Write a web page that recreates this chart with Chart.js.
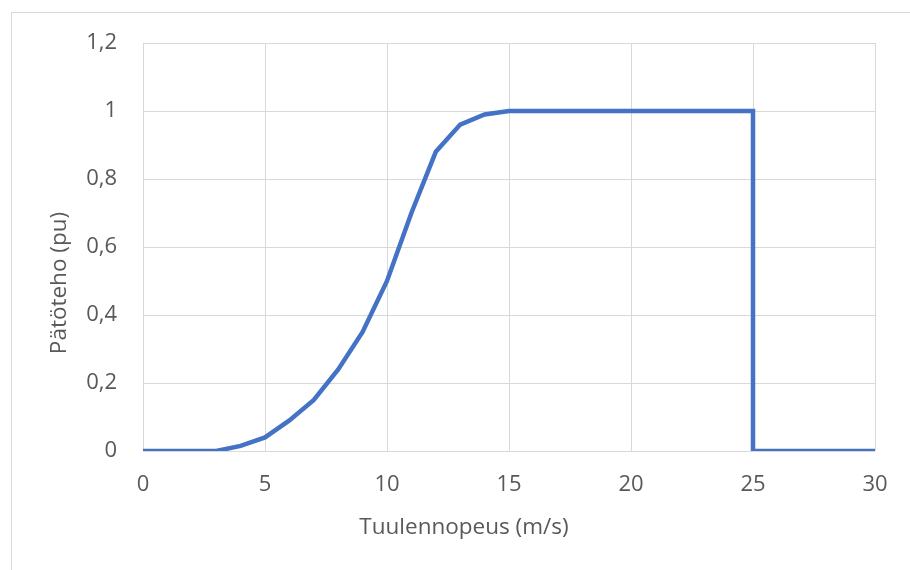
<!DOCTYPE html>
<html>
<head>
<meta charset="utf-8">
<script src="https://cdn.jsdelivr.net/npm/chart.js@4"></script>
<style>
  html, body { margin: 0; padding: 0; background: #fff; }
  #wrap { width: 910px; height: 570px; }
</style>
</head>
<body>
<div id="wrap"><canvas id="powerCurve" width="910" height="570"></canvas></div>
<script>
/* -------------------------------------------------------
   Data: wind turbine power curve
------------------------------------------------------- */
const windSpeed = [0, 3, 4, 5, 6, 7, 8, 9, 10, 11, 12, 13, 14, 15, 25, 25, 30];
const powerPu   = [0, 0, 0.015, 0.04, 0.09, 0.15, 0.24, 0.35, 0.5, 0.7, 0.88, 0.96, 0.99, 1, 1, 0, 0];
const xTitle = 'Tuulennopeus (m/s)';
const yTitle = 'Pätöteho (pu)';

const FONT = "'Open Sans', sans-serif";
const TEXT = '#595959';
const GRID = '#d9d9d9';

Chart.defaults.font.family = FONT;
Chart.defaults.font.size = 22;
Chart.defaults.color = TEXT;

// frame + axis titles (Excel centres titles on the whole chart box)
const decor = {
  id: 'decor',
  beforeDraw(chart) {
    const c = chart.ctx;
    c.save();
    c.strokeStyle = GRID;
    c.lineWidth = 1;
    c.strokeRect(11.5, 12.5, chart.width + 20, chart.height + 20);
    c.restore();
  },
  afterDraw(chart) {
    const c = chart.ctx;
    c.save();
    c.fillStyle = TEXT;
    c.font = '22.5px ' + FONT;
    c.textAlign = 'center';
    c.textBaseline = 'middle';
    c.fillText(xTitle, 464, 528);
    c.translate(60, 283);
    c.rotate(-Math.PI / 2);
    c.fillText(yTitle, 0, 0);
    c.restore();
  }
};

new Chart(document.getElementById('powerCurve'), {
  type: 'line',
  data: {
    datasets: [{
      data: windSpeed.map((x, i) => ({ x, y: powerPu[i] })),
      borderColor: '#4472C4',
      borderWidth: 4.5,
      borderJoinStyle: 'miter',
      pointRadius: 0,
      tension: 0,
      fill: false
    }]
  },
  options: {
    responsive: false,
    animation: false,
    layout: { padding: { left: 40, top: 43, right: 35, bottom: 59 } },
    plugins: { legend: { display: false }, tooltip: { enabled: false } },
    scales: {
      x: {
        type: 'linear',
        min: 0, max: 30,
        border: { display: false },
        grid: { color: GRID, drawTicks: false },
        ticks: { stepSize: 5, padding: 21, maxRotation: 0 },
        afterFit: s => { s.height = 60; }
      },
      y: {
        min: 0, max: 1.2,
        border: { display: false },
        grid: { color: GRID, drawTicks: false },
        ticks: {
          stepSize: 0.2,
          padding: 26,
          callback: v => String(Math.round(v * 10) / 10).replace('.', ',')
        },
        afterFit: s => { s.width = 103; }
      }
    }
  },
  plugins: [decor]
});
</script>
</body>
</html>
